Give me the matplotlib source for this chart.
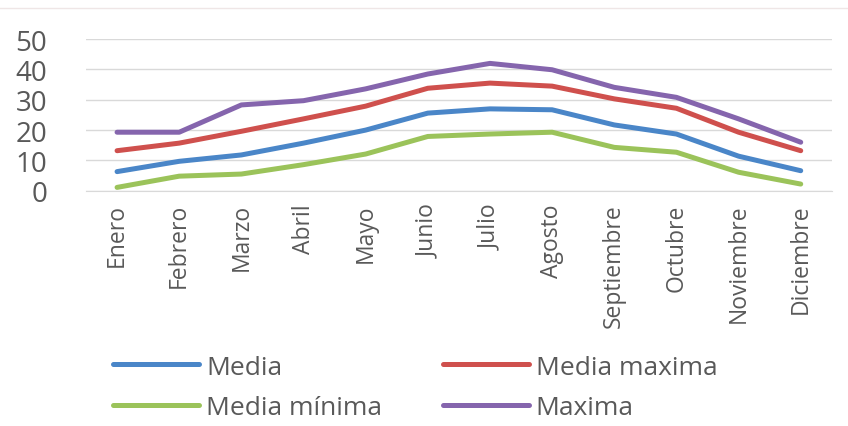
import matplotlib
matplotlib.use("Agg")
import matplotlib.pyplot as plt
from matplotlib.lines import Line2D


MESES = ["Enero", "Febrero", "Marzo", "Abril", "Mayo", "Junio", "Julio",
         "Agosto", "Septiembre", "Octubre", "Noviembre", "Diciembre"]

media = [6.3, 9.7, 11.8, 15.7, 20.0, 25.6, 27.0, 26.7, 21.7, 18.7, 11.4, 6.6]
media_maxima = [13.2, 15.7, 19.6, 23.7, 27.9, 33.8, 35.5, 34.5, 30.3, 27.2, 19.3, 13.2]
media_minima = [1.1, 4.8, 5.5, 8.6, 12.1, 17.9, 18.7, 19.3, 14.3, 12.7, 6.1, 2.2]
maxima = [19.3, 19.3, 28.3, 29.7, 33.6, 38.5, 42.0, 39.9, 34.1, 30.8, 23.7, 16.0]

Y_TICKS = [0, 10, 20, 30, 40, 50]

TEXT_COLOR = "#595959"
GRID_COLOR = "#d9d9d9"

plt.rcParams["font.family"] = ["Open Sans", "DejaVu Sans"]

fig = plt.figure(figsize=(8.48, 4.27), dpi=100)
ax = fig.add_axes([0.1014, 0.551, 0.8795, 0.355])

x = range(len(MESES))
# legend fills column by column, so this order gives rows
# Media / Media maxima and Media mínima / Maxima
series = [
    ("Media", media, "#4a86c8"),
    ("Media mínima", media_minima, "#9bc35a"),
    ("Media maxima", media_maxima, "#cf504d"),
    ("Maxima", maxima, "#8565ad"),
]

handles = []
for i, (name, values, color) in enumerate(series):
    line, = ax.plot(x, values, color=color, linewidth=3.6,
                    solid_capstyle="round", solid_joinstyle="round",
                    label=name, zorder=3 + i)
    handles.append(line)

ax.set_xlim(-0.5, len(MESES) - 0.5)
ax.set_ylim(0, 50)
ax.set_yticks(Y_TICKS)
ax.set_xticks(list(x))
ax.set_xticklabels(MESES, rotation=90, fontsize=16.5, color=TEXT_COLOR)
ax.tick_params(axis="y", labelsize=20, labelcolor=TEXT_COLOR, length=0, pad=28)
ax.tick_params(axis="x", length=0, pad=9)

ax.grid(axis="y", color=GRID_COLOR, linewidth=1)
ax.set_axisbelow(True)
for side in ["top", "right", "left"]:
    ax.spines[side].set_visible(False)
ax.spines["bottom"].set_color(GRID_COLOR)

leg = fig.legend(handles=handles, loc="upper left",
                 bbox_to_anchor=(0.118, 0.198), ncol=2,
                 frameon=False, fontsize=19, handlelength=3.25,
                 handletextpad=0.27, columnspacing=2.3, labelspacing=0.6,
                 borderpad=0)
for t in leg.get_texts():
    t.set_color(TEXT_COLOR)

# faint border line at the top of the chart area
fig.add_artist(Line2D([0, 1], [0.978, 0.978], transform=fig.transFigure,
                      color="#efe6e6", linewidth=1))

fig.savefig("out.png", dpi=100)
plt.close(fig)
